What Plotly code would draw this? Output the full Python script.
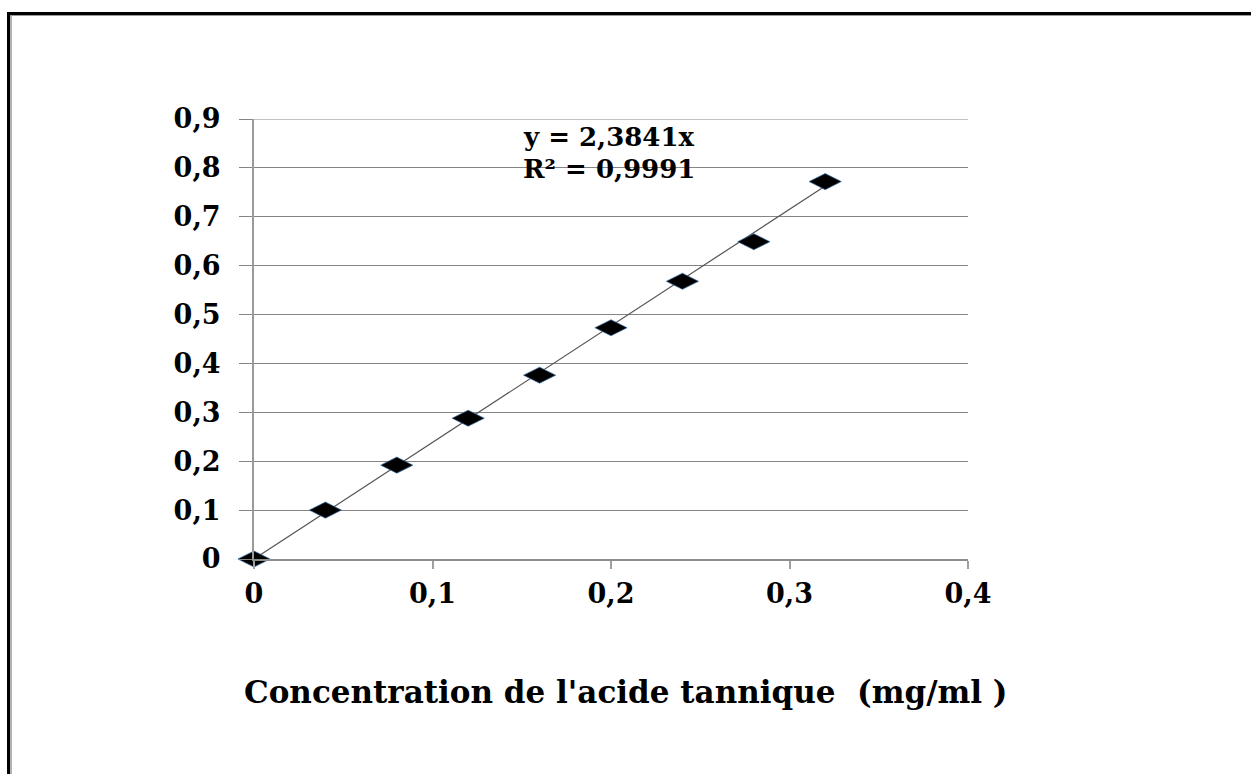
import plotly.graph_objects as go

# Data
conc = [0, 0.04, 0.08, 0.12, 0.16, 0.20, 0.24, 0.28, 0.32]
absorb = [0, 0.100, 0.192, 0.288, 0.376, 0.473, 0.568, 0.649, 0.772]
slope = 2.3841
r2_text = "R² = 0,9991"
eq_text = "y = 2,3841x"
x_ticks = [0, 0.1, 0.2, 0.3, 0.4]
x_ticklabels = ["0", "0,1", "0,2", "0,3", "0,4"]
y_ticks = [0, 0.1, 0.2, 0.3, 0.4, 0.5, 0.6, 0.7, 0.8, 0.9]
y_ticklabels = ["0", "0,1", "0,2", "0,3", "0,4", "0,5", "0,6", "0,7", "0,8", "0,9"]
x_title = "Concentration de l'acide tannique  (mg/ml )"
x_range = [0, 0.4]
y_range = [0, 0.9]

W, H = 1251, 774
L, R, T, B = 254, 968, 119, 559  # plot area in pixels

def px_x(p):
    return (p - L) / (R - L)

def px_y(p):
    return (B - p) / (B - T)

FONT = "DejaVu Serif"

fig = go.Figure()

trend_x = [conc[0], conc[-1]]
trend_y = [slope * v for v in trend_x]
fig.add_trace(go.Scatter(x=trend_x, y=trend_y, mode="lines",
                         line=dict(color="#555555", width=1.2),
                         hoverinfo="skip", showlegend=False))

fig.add_trace(go.Scatter(x=conc, y=absorb, mode="markers",
                         marker=dict(symbol="diamond-wide", size=23, color="black",
                                     line=dict(color="#3a6ea5", width=0.7)),
                         showlegend=False, cliponaxis=False))

# top gridline (at the top edge of the range)
fig.add_shape(type="line", xref="x", yref="y", layer="below",
              x0=x_range[0], x1=x_range[1], y0=y_ticks[-1], y1=y_ticks[-1],
              line=dict(color="#858585", width=1.2))

fig.update_layout(
    width=W, height=H,
    margin=dict(l=L, r=W - R, t=T, b=H - B, pad=0),
    paper_bgcolor="white", plot_bgcolor="white",
    font=dict(family=FONT, color="black"),
    xaxis=dict(range=x_range, tickvals=x_ticks, ticktext=x_ticklabels,
               showgrid=False, zeroline=False, showline=True,
               linecolor="#8c8c8c", linewidth=1.5,
               ticks="outside", ticklen=8, tickwidth=1.5, tickcolor="#a0a0a0",
               tickfont=dict(family=FONT, size=27, weight="bold"),
               ticklabelstandoff=2, fixedrange=True),
    yaxis=dict(range=y_range, tickvals=y_ticks, ticktext=y_ticklabels,
               showgrid=True, gridcolor="#858585", gridwidth=1.2,
               zeroline=False, showline=True,
               linecolor="#9a9a9a", linewidth=2,
               ticks="outside", ticklen=13, tickwidth=1.2, tickcolor="#858585",
               tickfont=dict(family=FONT, size=27, weight="bold"),
               ticklabelstandoff=13, fixedrange=True),
)

# Equation annotation
fig.add_annotation(x=px_x(521), y=px_y(137), xref="paper", yref="paper",
                   text=eq_text, showarrow=False, xanchor="left", yanchor="middle",
                   font=dict(family=FONT, size=26, weight="bold", color="black"))
fig.add_annotation(x=px_x(521), y=px_y(169), xref="paper", yref="paper",
                   text=r2_text, showarrow=False, xanchor="left", yanchor="middle",
                   font=dict(family=FONT, size=26, weight="bold", color="black"))

# X axis title
fig.add_annotation(x=px_x(626), y=px_y(692), xref="paper", yref="paper",
                   text=x_title, showarrow=False, xanchor="center", yanchor="middle",
                   font=dict(family=FONT, size=31, weight="bold", color="black"))

# Frame lines (top and left)
fig.add_shape(type="line", xref="paper", yref="paper",
              x0=px_x(7), x1=px_x(W + 5), y0=px_y(13.5), y1=px_y(13.5),
              line=dict(color="black", width=3))
fig.add_shape(type="line", xref="paper", yref="paper",
              x0=px_x(10), x1=px_x(W + 5), y0=px_y(15.5), y1=px_y(15.5),
              line=dict(color="#9a9a9a", width=1))
fig.add_shape(type="line", xref="paper", yref="paper",
              x0=px_x(8.5), x1=px_x(8.5), y0=px_y(12), y1=px_y(H + 5),
              line=dict(color="black", width=3))
fig.add_shape(type="line", xref="paper", yref="paper",
              x0=px_x(11), x1=px_x(11), y0=px_y(15), y1=px_y(H + 5),
              line=dict(color="#9a9a9a", width=1.5))

fig.write_html("out.html", config=dict(displayModeBar=False))
